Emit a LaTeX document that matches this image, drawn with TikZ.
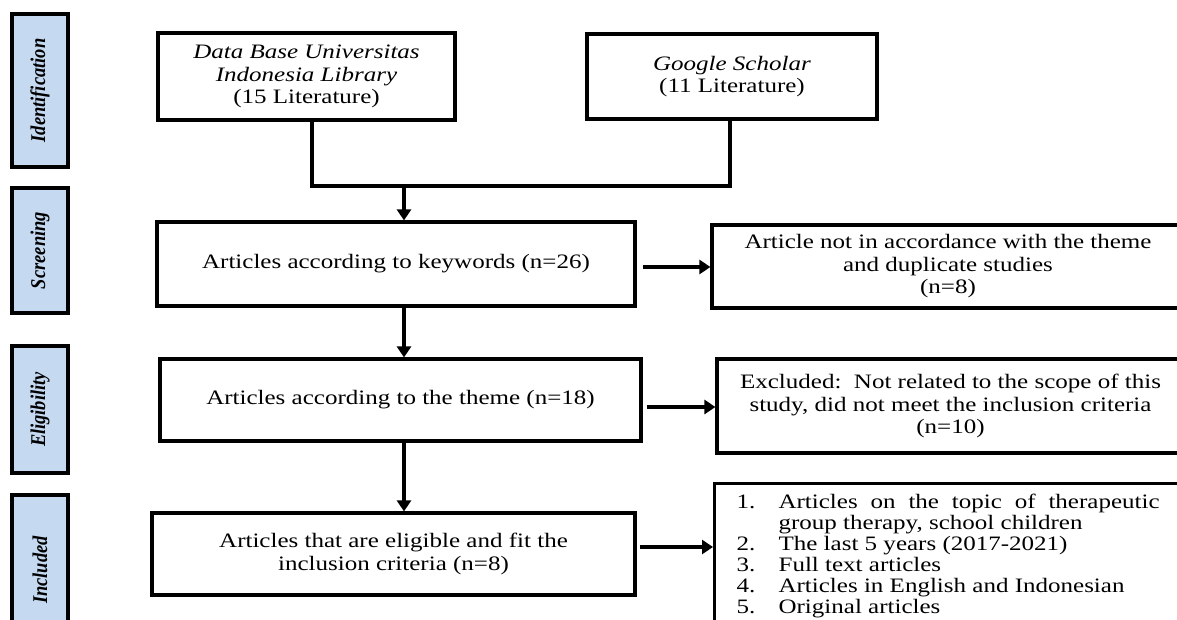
\documentclass[tikz,border=0pt]{standalone}
\usepackage{fontspec}
\setmainfont[FakeStretch=1.22]{Liberation Serif}
\newfontfamily\lblfont[FakeStretch=0.88]{Liberation Serif}
\usetikzlibrary{arrows.meta,calc,shadows}
\definecolor{lblblue}{RGB}{197,217,241}
\newcommand{\lstitem}[2]{\hangindent=42pt\hangafter=1\makebox[42pt][l]{#1}#2\par}
\begin{document}
\begin{tikzpicture}[x=1pt,y=-1pt,
  box/.style={draw, line width=3.2pt, align=center, inner sep=0pt, font=\fontsize{20.5}{22.5}\selectfont},
  lbl/.style={draw, line width=3.4pt, fill=lblblue, rotate=90, minimum height=56pt, inner sep=0pt,
    drop shadow={shadow xshift=1.6pt, shadow yshift=-1.6pt, fill=black!55, opacity=1},
    font=\lblfont\bfseries\itshape\fontsize{21}{22}\selectfont},
  arr/.style={line width=3.2pt, -{Triangle[length=11pt,width=14pt]}},
  conn/.style={line width=3.2pt}]
\useasboundingbox (0,0) rectangle (1177,619);
\clip (0,0) rectangle (1177,619);

% stage labels
\node[lbl, minimum width=153pt] (lid) at (40,90.5) {Identification};
\node[lbl, minimum width=125pt] (lsc) at (40,250.5) {Screening};
\node[lbl, minimum width=127pt] (lel) at (40,409.5) {Eligibility};
\node[lbl, minimum width=150pt] (lin) at (40,570) {Included};

% identification
\node[box, minimum width=297pt, minimum height=87pt] (db) at (306.5,76.5)
  {\textit{Data Base Universitas}\\\textit{Indonesia Library}\\(15 Literature)};
\node[box, minimum width=290pt, minimum height=85pt] (gs) at (732,76.5)
  {\textit{Google Scholar}\\(11 Literature)};

% main column
\node[box, minimum width=478pt, minimum height=84pt] (scr) at (396,264)
  {Articles according to keywords (n=26)};
\node[box, minimum width=481pt, minimum height=82pt] (elig) at (400.5,400)
  {Articles according to the theme (n=18)};
\node[box, minimum width=483pt, minimum height=82pt] (incl) at (393.5,554)
  {Articles that are eligible and fit the\\inclusion criteria (n=8)};

% right column
\node[box, minimum width=472pt, minimum height=83pt] (r1) at (948,266.5)
  {Article not in accordance with the theme\\and duplicate studies\\(n=8)};
\node[box, minimum width=467pt, minimum height=94pt] (r2) at (950.5,406)
  {Excluded:\ \ Not related to the scope of this\\study, did not meet the inclusion criteria\\(n=10)};
\node[box, anchor=north west, text width=423pt, align=justify, inner xsep=22pt, inner ysep=10pt,
      font=\fontsize{20.5}{21}\selectfont] (r3) at (713,482)
  {\parskip=0pt\parindent=0pt\lstitem{1.}{Articles on the topic of therapeutic group therapy, school children}%
   \lstitem{2.}{The last 5 years (2017-2021)}%
   \lstitem{3.}{Full text articles}%
   \lstitem{4.}{Articles in English and Indonesian}%
   \lstitem{5.}{Original articles}};

% connectors
\coordinate (j) at (404,186);
\draw[conn] ([xshift=5.5pt]db.south) |- (j);
\draw[conn] (j) -| ([xshift=-2pt]gs.south);
\draw[arr] (j) -- (j |- scr.north);
\draw[arr] (j |- scr.south) -- (j |- elig.north);
\draw[arr] (j |- elig.south) -- (j |- incl.north);

\draw[arr] ([xshift=6pt,yshift=-3pt]scr.east) -- ([yshift=-3pt]scr.east -| r1.west);
\draw[arr] ([xshift=4pt,yshift=-7pt]elig.east) -- ([yshift=-7pt]elig.east -| r2.west);
\draw[arr] ([xshift=3pt,yshift=7pt]incl.east) -- ([yshift=7pt]incl.east -| r3.west);
\end{tikzpicture}
\end{document}
